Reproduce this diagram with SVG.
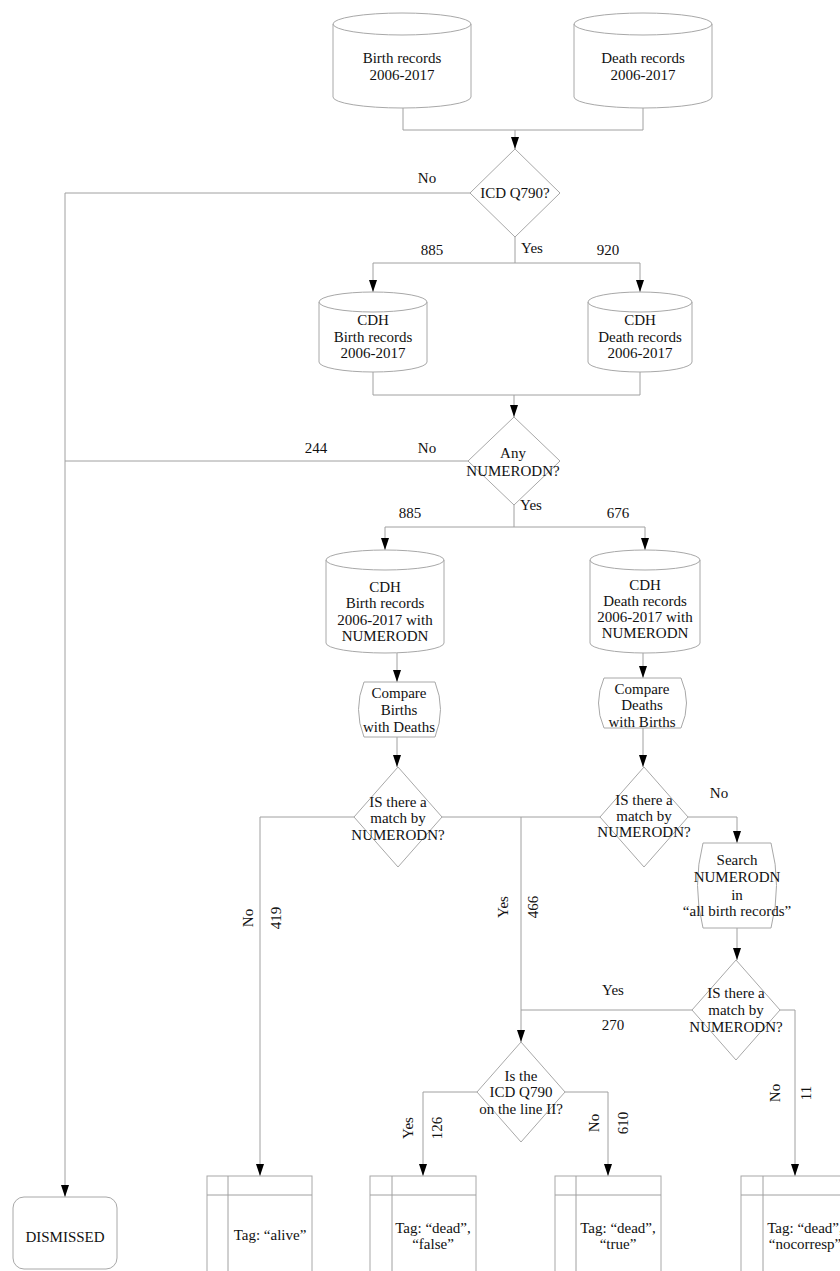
<svg xmlns="http://www.w3.org/2000/svg" width="840" height="1271" viewBox="0 0 840 1271">
<style>
text{font-family:"Liberation Serif","Times New Roman",serif;font-size:15px;fill:#111;text-anchor:middle}
.s{fill:#fff;stroke:#a8a8a8;stroke-width:1}
.c{fill:none;stroke:#a0a0a0;stroke-width:1}
</style>
<defs>
<marker id="a" viewBox="0 0 12 8" refX="12" refY="4" markerWidth="12" markerHeight="8" markerUnits="userSpaceOnUse" orient="auto"><path d="M0,0 L12,4 L0,8 Z" fill="#000"/></marker>
</defs>
<rect width="840" height="1271" fill="#fff"/>
<g id="connectors">
<path class="c" d="M403,108 V130 H643 V108"/>
<path class="c" d="M515,130 V149" marker-end="url(#a)"/>
<path class="c" d="M470,193 H65 V1197" marker-end="url(#a)"/>
<path class="c" d="M515,237 V263 M373,263 H640"/>
<path class="c" d="M373,263 V292" marker-end="url(#a)"/>
<path class="c" d="M640,263 V292" marker-end="url(#a)"/>
<path class="c" d="M373,372 V395 H640 V372"/>
<path class="c" d="M514,395 V417" marker-end="url(#a)"/>
<path class="c" d="M468,461 H65"/>
<path class="c" d="M514,505 V527 M385,527 H645"/>
<path class="c" d="M385,527 V550" marker-end="url(#a)"/>
<path class="c" d="M645,527 V550" marker-end="url(#a)"/>
<path class="c" d="M397,653 V682" marker-end="url(#a)"/>
<path class="c" d="M643,653 V678" marker-end="url(#a)"/>
<path class="c" d="M397,737 V767" marker-end="url(#a)"/>
<path class="c" d="M643,728 V767" marker-end="url(#a)"/>
<path class="c" d="M354,817 H260 V1176" marker-end="url(#a)"/>
<path class="c" d="M442,817 H600"/>
<path class="c" d="M521,817 V1042" marker-end="url(#a)"/>
<path class="c" d="M688,817 H737 V843" marker-end="url(#a)"/>
<path class="c" d="M737,928 V960" marker-end="url(#a)"/>
<path class="c" d="M692,1010 H521"/>
<path class="c" d="M780,1010 H795 V1176" marker-end="url(#a)"/>
<path class="c" d="M477,1092 H423 V1176" marker-end="url(#a)"/>
<path class="c" d="M565,1092 H608 V1176" marker-end="url(#a)"/>
<g id="edge-labels">
<text x="427" y="183">No</text>
<text x="432" y="255">885</text>
<text x="532" y="253">Yes</text>
<text x="608" y="255">920</text>
<text x="316" y="453">244</text>
<text x="427" y="453">No</text>
<text x="410" y="518">885</text>
<text x="531" y="510">Yes</text>
<text x="618" y="518">676</text>
<text x="719" y="798">No</text>
<text transform="translate(253,918) rotate(-90)">No</text>
<text transform="translate(281,918) rotate(-90)">419</text>
<text transform="translate(508,907) rotate(-90)">Yes</text>
<text transform="translate(538,907) rotate(-90)">466</text>
<text x="613" y="995">Yes</text>
<text x="613" y="1030">270</text>
<text transform="translate(413,1128) rotate(-90)">Yes</text>
<text transform="translate(442,1128) rotate(-90)">126</text>
<text transform="translate(599,1123) rotate(-90)">No</text>
<text transform="translate(628,1123) rotate(-90)">610</text>
<text transform="translate(780,1093) rotate(-90)">No</text>
<text transform="translate(811,1093) rotate(-90)">11</text>
</g>
</g>
<g id="birth-records">
<path class="s" d="M333,24 A69,11 0 0 1 471,24 A69,11 0 0 1 333,24 V97 A69,11 0 0 0 471,97 V24"/>
<text x="402" y="63">Birth records</text>
<text x="402" y="80">2006-2017</text>
</g>
<g id="death-records">
<path class="s" d="M574,24 A69,11 0 0 1 712,24 A69,11 0 0 1 574,24 V97 A69,11 0 0 0 712,97 V24"/>
<text x="643" y="63">Death records</text>
<text x="643" y="80">2006-2017</text>
</g>
<g id="icd-q790">
<polygon class="s" points="515,149 560,193 515,237 470,193"/>
<text x="515" y="198">ICD Q790?</text>
</g>
<g id="cdh-birth">
<path class="s" d="M319,302 A54,10 0 0 1 427,302 A54,10 0 0 1 319,302 V362 A54,10 0 0 0 427,362 V302"/>
<text x="373" y="325">CDH</text>
<text x="373" y="342">Birth records</text>
<text x="373" y="358">2006-2017</text>
</g>
<g id="cdh-death">
<path class="s" d="M588,302 A52,10 0 0 1 692,302 A52,10 0 0 1 588,302 V362 A52,10 0 0 0 692,362 V302"/>
<text x="640" y="325">CDH</text>
<text x="640" y="342">Death records</text>
<text x="640" y="358">2006-2017</text>
</g>
<g id="any-numerodn">
<polygon class="s" points="514,417 560,461 514,505 468,461"/>
<text x="513" y="458">Any</text>
<text x="513" y="476">NUMERODN?</text>
</g>
<g id="cdh-birth-numerodn">
<path class="s" d="M326,560 A59,10 0 0 1 444,560 A59,10 0 0 1 326,560 V643 A59,10 0 0 0 444,643 V560"/>
<text x="385" y="592">CDH</text>
<text x="385" y="608">Birth records</text>
<text x="385" y="625">2006-2017 with</text>
<text x="385" y="641">NUMERODN</text>
</g>
<g id="cdh-death-numerodn">
<path class="s" d="M590,560 A55,10 0 0 1 700,560 A55,10 0 0 1 590,560 V643 A55,10 0 0 0 700,643 V560"/>
<text x="645" y="590">CDH</text>
<text x="645" y="606">Death records</text>
<text x="645" y="622">2006-2017 with</text>
<text x="645" y="638">NUMERODN</text>
</g>
<g id="compare-births">
<path class="s" d="M364,682 H435 Q446,709.5 435,737 H364 Q353,709.5 364,682 Z"/>
<text x="399" y="698">Compare</text>
<text x="399" y="715">Births</text>
<text x="399" y="732">with Deaths</text>
</g>
<g id="compare-deaths">
<path class="s" d="M604,678 H681 Q692,703 681,728 H604 Q593,703 604,678 Z"/>
<text x="642" y="694">Compare</text>
<text x="642" y="710">Deaths</text>
<text x="642" y="727">with Births</text>
</g>
<g id="match-left">
<polygon class="s" points="398,767 442,817 398,867 354,817"/>
<text x="398" y="807">IS there a</text>
<text x="398" y="823">match by</text>
<text x="398" y="840">NUMERODN?</text>
</g>
<g id="match-right">
<polygon class="s" points="644,767 688,817 644,867 600,817"/>
<text x="644" y="805">IS there a</text>
<text x="644" y="821">match by</text>
<text x="644" y="837">NUMERODN?</text>
</g>
<g id="search">
<path class="s" d="M703,843 H771 Q782,885.5 771,928 H703 Q692,885.5 703,843 Z"/>
<text x="737" y="865">Search</text>
<text x="737" y="882">NUMERODN</text>
<text x="737" y="900">in</text>
<text x="737" y="916">“all birth records”</text>
</g>
<g id="match-all">
<polygon class="s" points="736,960 780,1010 736,1060 692,1010"/>
<text x="736" y="998">IS there a</text>
<text x="736" y="1015">match by</text>
<text x="736" y="1032">NUMERODN?</text>
</g>
<g id="icd-line-ii">
<polygon class="s" points="521,1042 565,1092 521,1142 477,1092"/>
<text x="521" y="1081">Is the</text>
<text x="521" y="1097">ICD Q790</text>
<text x="521" y="1114">on the line II?</text>
</g>
<g id="dismissed">
<rect class="s" x="13" y="1197" width="104" height="72" rx="11"/>
<text x="65" y="1242">DISMISSED</text>
</g>
<g id="tag-alive">
<rect class="s" x="207" y="1176" width="105" height="120"/>
<path class="c" d="M228,1176 V1271 M207,1195 H312"/>
<text x="270" y="1240">Tag: “alive”</text>
</g>
<g id="tag-false">
<rect class="s" x="370" y="1176" width="106" height="120"/>
<path class="c" d="M392,1176 V1271 M370,1195 H476"/>
<text x="433" y="1233">Tag: “dead”,</text>
<text x="433" y="1249">“false”</text>
</g>
<g id="tag-true">
<rect class="s" x="555" y="1176" width="106" height="120"/>
<path class="c" d="M576,1176 V1271 M555,1195 H661"/>
<text x="618" y="1233">Tag: “dead”,</text>
<text x="618" y="1249">“true”</text>
</g>
<g id="tag-nocorresp">
<rect class="s" x="741" y="1176" width="106" height="120"/>
<path class="c" d="M763,1176 V1271 M741,1195 H847"/>
<text x="805" y="1233">Tag: “dead”,</text>
<text x="805" y="1249">“nocorresp”</text>
</g>
</svg>
